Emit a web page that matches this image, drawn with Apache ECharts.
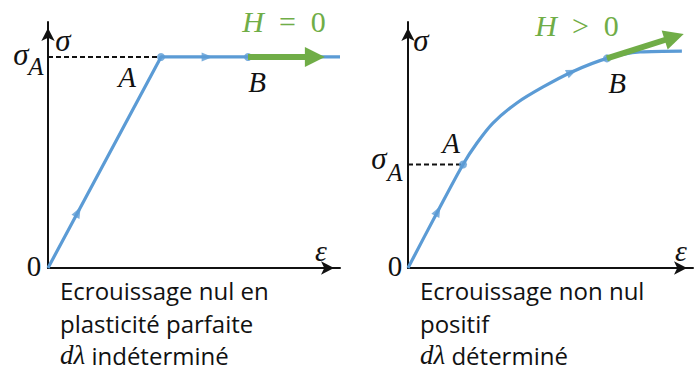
<!DOCTYPE html>
<html><head><meta charset="utf-8">
<script src="https://cdn.jsdelivr.net/npm/echarts@6/dist/echarts.min.js"></script>
<style>html,body{margin:0;padding:0;background:#fff}#c{width:694px;height:372px}</style>
</head><body><div id="c"></div>
<script>
// ---- Left panel: perfect plasticity (H = 0) ----
const leftStrain = [0, 3.87, 10];
const leftStress = [0, 8.58, 8.58];
const leftA = [3.87, 8.58];
const leftB = [6.85, 8.58];
const leftGreenEnd = [9.14, 8.58];
const leftDirX = [1.03, 5.45];
const leftDirY = [2.28, 8.58];
const leftDirAngle = [-28, -90];
// ---- Right panel: positive hardening (H > 0) ----
const rightStrain = [0, 1.05, 1.93, 2.42, 2.98, 3.82, 4.74, 5.75, 6.98, 8.14, 9.61];
const rightStress = [0, 2.32, 4.21, 5.08, 5.89, 6.71, 7.36, 7.97, 8.52, 8.78, 8.82];
const rightA = [1.93, 4.21];
const rightB = [6.98, 8.52];
const rightGreenEnd = [9.34, 9.39];
const rightDirX = [1.05, 5.75];
const rightDirY = [2.32, 7.97];
const rightDirAngle = [-28, -66];
// ---- Texts ----
const captionLeft = ['Ecrouissage nul en', 'plasticité parfaite', 'indéterminé'];
const captionRight = ['Ecrouissage non nul', 'positif', 'déterminé'];

const BLUE = '#5B9BD5', GREEN = '#70AD47', INK = '#111';
const SERIF = '"Liberation Serif", "DejaVu Serif", serif';
const SANS = '"Open Sans", Lato, sans-serif';

const chart = echarts.init(document.getElementById('c'), null, {renderer: 'svg'});

function axisCommon() {
  return {
    type: 'value', min: 0, max: 10,
    axisLine: {show: true, onZero: false, lineStyle: {color: INK, width: 2},
      symbol: ['none', 'arrow'], symbolSize: [10, 13], symbolOffset: [0, -6]},
    axisTick: {show: false}, axisLabel: {show: false}, splitLine: {show: false}
  };
}
const zip = (a, b) => a.map((v, i) => [v, b[i]]);

function panelSeries(idx, strain, stress, A, B, gEnd, dX, dY, dAng, smooth) {
  return [
    {type: 'line', xAxisIndex: idx, yAxisIndex: idx, data: [[0, A[1]], [A[0], A[1]]],
      symbol: 'none', lineStyle: {color: INK, width: 2, type: [5, 3]}, z: 2, silent: true},
    {type: 'line', xAxisIndex: idx, yAxisIndex: idx, data: zip(strain, stress),
      smooth: smooth, symbol: 'none', clip: false,
      lineStyle: {color: BLUE, width: 3.2}, z: 3},
    {type: 'lines', coordinateSystem: 'cartesian2d', xAxisIndex: idx, yAxisIndex: idx,
      data: [{coords: [B, gEnd]}], symbol: ['none', 'triangle'], symbolSize: [18, 20],
      lineStyle: {color: GREEN, width: 6, opacity: 1}, z: 5},
    {type: 'scatter', xAxisIndex: idx, yAxisIndex: idx, data: [A, B],
      symbol: 'circle', symbolSize: 8, itemStyle: {color: BLUE}, z: 4},
    {type: 'scatter', xAxisIndex: idx, yAxisIndex: idx,
      data: dX.map((x, i) => ({value: [x, dY[i]], symbolRotate: dAng[i]})),
      symbol: 'triangle', symbolSize: [9, 11], itemStyle: {color: BLUE}, z: 4}
  ];
}

function t(x, y, text, font, fill, extra) {
  return Object.assign({type: 'text', x: x, y: y, silent: true,
    style: Object.assign({text: text, font: font, fill: fill || INK, textAlign: 'center', textVerticalAlign: 'middle'}, extra || {})});
}
const it = (s) => 'italic ' + s + 'px ' + SERIF;
const rm = (s) => s + 'px ' + SERIF;

function caption(x, lines) {
  const f = '24px ' + SANS;
  return [
    t(x, 290, lines[0], f, INK, {textAlign: 'left'}),
    t(x, 323, lines[1], f, INK, {textAlign: 'left'}),
    {type: 'text', x: x, y: 355, silent: true, style: {
      text: '{m|dλ} ' + lines[2], font: f, fill: INK, textAlign: 'left', textVerticalAlign: 'middle',
      rich: {m: {font: it(27), fill: INK}}}}
  ];
}

const graphics = [
  // left panel labels
  t(284, 21, '{i|H}\u2002=\u20020', rm(30), GREEN, {rich: {i: {font: it(30), fill: GREEN}}}),
  t(63, 40, 'σ', it(31)),
  t(21, 54, 'σ', it(31)), t(36, 66, 'A', it(25)),
  t(127, 77, 'A', it(29)), t(257, 82, 'B', it(29)),
  t(34, 266, '0', rm(29)), t(321, 250, 'ε', it(30)),
  // right panel labels
  t(577, 25, '{i|H}\u2002>\u20020', rm(30), GREEN, {rich: {i: {font: it(30), fill: GREEN}}}),
  t(421, 40, 'σ', it(31)),
  t(379, 158, 'σ', it(31)), t(395, 172, 'A', it(25)),
  t(451, 143, 'A', it(29)), t(617, 83, 'B', it(29)),
  t(395, 266, '0', rm(29)), t(681, 250, 'ε', it(30))
].concat(caption(60, captionLeft), caption(420, captionRight));

chart.setOption({
  animation: false,
  backgroundColor: '#fff',
  grid: [
    {left: 48, top: 22, width: 292, height: 246},
    {left: 408, top: 22, width: 285, height: 246}
  ],
  xAxis: [Object.assign(axisCommon(), {gridIndex: 0}), Object.assign(axisCommon(), {gridIndex: 1})],
  yAxis: [Object.assign(axisCommon(), {gridIndex: 0}), Object.assign(axisCommon(), {gridIndex: 1})],
  series: panelSeries(0, leftStrain, leftStress, leftA, leftB, leftGreenEnd, leftDirX, leftDirY, leftDirAngle, false)
    .concat(panelSeries(1, rightStrain, rightStress, rightA, rightB, rightGreenEnd, rightDirX, rightDirY, rightDirAngle, 0.3)),
  graphic: graphics
});
</script></body></html>
